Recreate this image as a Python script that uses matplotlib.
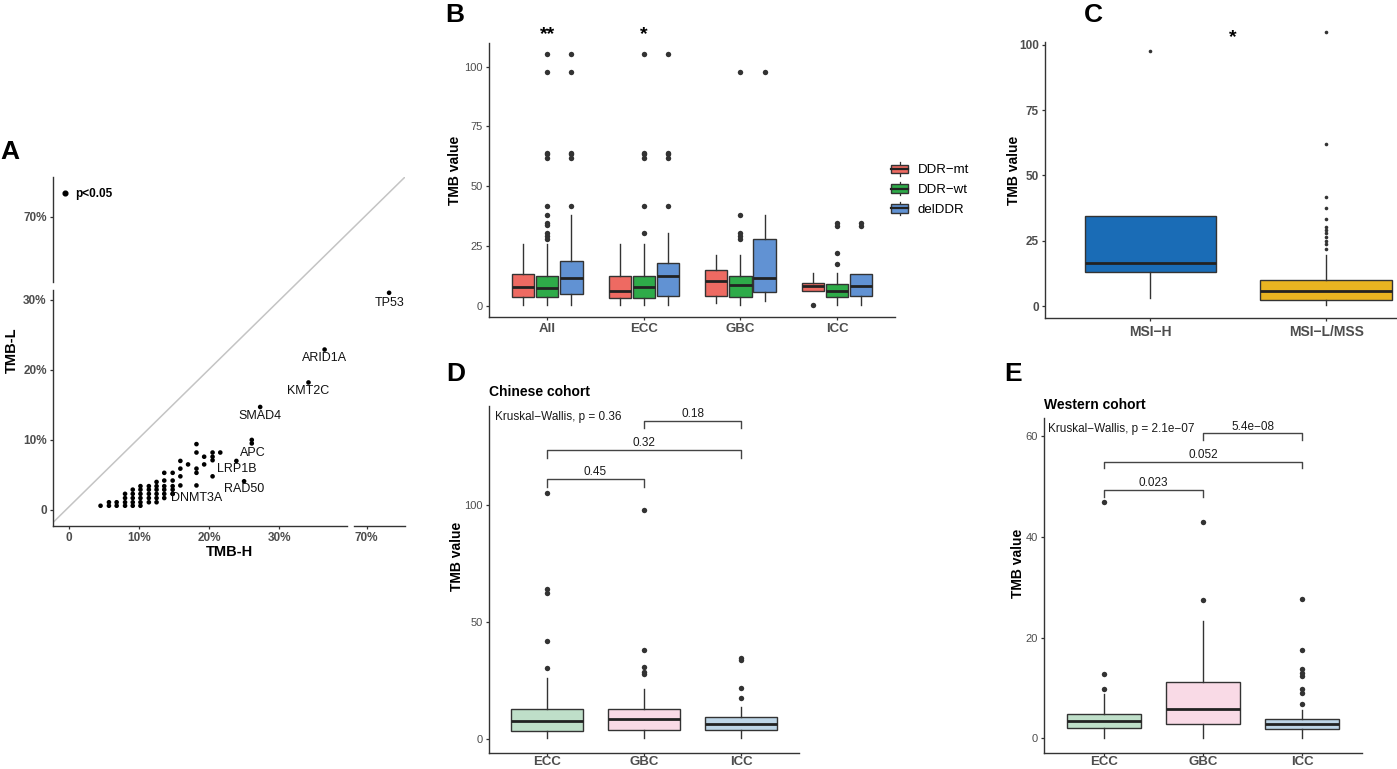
import matplotlib
matplotlib.use('Agg')
import matplotlib.pyplot as plt
from matplotlib.legend_handler import HandlerBase
from matplotlib.patches import Rectangle, Patch
from matplotlib.lines import Line2D

plt.rcParams['font.family'] = ['Liberation Sans', 'DejaVu Sans']

# ---------------- DATA ----------------
# Panel A: mutation frequency of genes in TMB-H (x, %) vs TMB-L (y, %)
a_x = [4.5, 5.7, 5.7, 6.8, 6.8,
       8.0, 8.0, 8.0, 8.0,
       9.1, 9.1, 9.1, 9.1, 9.1,
       10.2, 10.2, 10.2, 10.2, 10.2, 10.2,
       11.4, 11.4, 11.4, 11.4, 11.4,
       12.5, 12.5, 12.5, 12.5, 12.5, 12.5,
       13.6, 13.6, 13.6, 13.6, 13.6, 13.6,
       14.8, 14.8, 14.8, 14.8, 14.8,
       15.9, 15.9, 15.9, 15.9,
       17.0,
       18.2, 18.2, 18.2, 18.2, 18.2,
       19.3, 19.3,
       20.5, 20.5, 20.5, 20.5,
       21.6,
       26.1]
a_y = [0.6, 0.6, 1.1, 0.6, 1.1,
       0.6, 1.1, 1.7, 2.3,
       0.6, 1.1, 1.7, 2.3, 2.9,
       0.6, 1.1, 1.7, 2.3, 2.9, 3.4,
       1.1, 1.7, 2.3, 2.9, 3.4,
       1.1, 1.7, 2.3, 2.9, 3.4, 4.0,
       1.7, 2.3, 2.9, 3.4, 4.2, 5.3,
       2.3, 2.9, 3.4, 4.2, 5.3,
       3.5, 4.8, 5.9, 7.0,
       6.5,
       3.5, 5.3, 5.9, 8.2, 9.4,
       6.5, 7.6,
       4.8, 7.1, 7.6, 8.2,
       8.2,
       9.5]
a_genes = ['ARID1A', 'KMT2C', 'SMAD4', 'APC', 'LRP1B', 'RAD50', 'DNMT3A']
a_gene_x = [36.5, 34.2, 27.3, 26.1, 23.9, 25.0, 14.8]
a_gene_y = [22.9, 18.2, 14.7, 10.0, 7.0, 4.1, 2.3]
a_lab_x = [36.5, 34.2, 27.3, 26.2, 23.9, 25.0, 18.2]
a_lab_y = [21.7, 17.0, 13.4, 8.2, 5.9, 2.95, 1.76]
a_far_gene = 'TP53'
a_far_x = [73.2]
a_far_y = [31.0]
a_far_lab = (73.2, 29.6)

# Panel B: TMB by DDR status in each subtype
b_cats = ['All', 'ECC', 'GBC', 'ICC']
b_series = ['DDR\u2212mt', 'DDR\u2212wt', 'delDDR']
b_colors = ['#EE6A62', '#2EAB49', '#6192D3']
b_lo  = [[0.4, 0.4, 0.4], [0.4, 0.4, 0.4], [1.4, 0.4, 2.1], [6.3, 0.4, 0.4]]
b_q1  = [[3.9, 3.6, 5.1], [3.2, 3.2, 4.3], [4.3, 3.9, 5.7], [6.3, 3.9, 4.3]]
b_med = [[7.9, 7.5, 11.8], [6.3, 7.9, 12.7], [10.3, 8.8, 11.8], [8.5, 6.4, 8.3]]
b_q3  = [[13.2, 12.5, 18.9], [12.7, 12.5, 17.8], [15.2, 12.7, 27.8], [9.7, 9.2, 13.2]]
b_hi  = [[25.7, 25.7, 37.8], [25.7, 25.7, 30.6], [21.1, 21.1, 37.8], [13.6, 13.6, 13.2]]
b_fl  = [[[], [28.0, 29.3, 30.6, 33.8, 34.8, 37.8, 41.9, 61.9, 63.3, 64.1, 97.8, 105.1],
          [41.9, 61.9, 63.3, 64.1, 97.8, 105.1]],
         [[], [30.6, 41.9, 61.9, 63.3, 64.1, 105.1], [41.9, 61.9, 63.3, 64.1, 105.1]],
         [[], [28.0, 29.2, 30.6, 37.8, 97.8], [97.8]],
         [[0.4], [17.4, 22.0, 33.4, 34.5], [33.4, 34.5]]]
b_sig = ['**', '*', '', '']

# Panel C: TMB by MSI status
c_cats = ['MSI\u2212H', 'MSI\u2212L/MSS']
c_colors = ['#1A6CB6', '#E9B421']
c_lo  = [3.2, 0.4]
c_q1  = [13.0, 2.4]
c_med = [16.5, 5.7]
c_q3  = [34.3, 10.1]
c_hi  = [34.3, 19.4]
c_fl  = [[97.6], [21.8, 23.6, 25.0, 26.5, 27.8, 29.1, 30.4, 33.4, 37.6, 41.7, 61.9, 104.8]]
c_sig = '*'

# Panels D, E: TMB by subtype in the two cohorts
de_cats = ['ECC', 'GBC', 'ICC']
de_colors = ['#BFDFC9', '#F9DAE6', '#BDD5E7']
d_lo  = [0.6, 0.6, 0.6]
d_q1  = [3.3, 3.8, 3.8]
d_med = [7.8, 8.7, 6.3]
d_q3  = [12.6, 12.8, 9.2]
d_hi  = [25.9, 21.2, 13.6]
d_fl  = [[30.5, 41.8, 62.1, 63.8, 105.1], [27.7, 28.7, 30.8, 37.9, 97.9], [17.3, 21.9, 33.7, 34.7]]
d_kw = 'Kruskal\u2212Wallis, p = 0.36'
d_pairs = [(1, 2), (1, 3), (2, 3)]
d_pvals = ['0.45', '0.32', '0.18']
d_brk_y = [110.8, 123.3, 135.7]

e_lo  = [0.0, 0.0, 0.0]
e_q1  = [2.1, 2.9, 1.9]
e_med = [3.4, 5.9, 2.9]
e_q3  = [4.9, 11.2, 3.9]
e_hi  = [8.7, 23.4, 5.6]
e_fl  = [[9.7, 12.7, 47.0], [27.4, 43.0], [6.8, 8.9, 9.7, 12.3, 12.9, 13.7, 17.5, 27.7]]
e_kw = 'Kruskal\u2212Wallis, p = 2.1e\u221207'
e_pairs = [(1, 2), (1, 3), (2, 3)]
e_pvals = ['0.023', '0.052', '5.4e\u221208']
e_brk_y = [49.3, 55.0, 60.6]

# ---------------- LAYOUT ----------------
W, H = 1397, 769
fig = plt.figure(figsize=(W / 100, H / 100), dpi=100)
fig.patch.set_facecolor('white')

def rect(l, t, r, b):
    return [l / W, 1 - b / H, (r - l) / W, (b - t) / H]

def fx(px):
    return px / W

def fy(py):
    return 1 - py / H

AXC = '#333333'
TXC = '#4D4D4D'

def style(ax, left=True, bottom=True):
    for s in ['top', 'right']:
        ax.spines[s].set_visible(False)
    ax.spines['left'].set_visible(left)
    ax.spines['bottom'].set_visible(bottom)
    for s in ['left', 'bottom']:
        ax.spines[s].set_linewidth(1.0)
        ax.spines[s].set_color(AXC)
    ax.tick_params(length=2.5, width=0.9, color=AXC, labelcolor=TXC, pad=2)
    ax.set_facecolor('none')

def draw_box(ax, positions, width, lo, q1, med, q3, hi, fl, colors, msize, lw=1.0):
    stats = []
    for i in range(len(positions)):
        stats.append(dict(whislo=lo[i], q1=q1[i], med=med[i], q3=q3[i], whishi=hi[i], fliers=fl[i]))
    for i, st in enumerate(stats):
        art = ax.bxp([st], positions=[positions[i]], widths=width, patch_artist=True,
                     showcaps=False, manage_ticks=False,
                     boxprops=dict(facecolor=colors[i], edgecolor=AXC, linewidth=lw),
                     medianprops=dict(color='#222222', linewidth=2.0),
                     whiskerprops=dict(color=AXC, linewidth=lw),
                     flierprops=dict(marker='o', markerfacecolor='#333333',
                                     markeredgecolor='none', markersize=msize))
        for f in art['fliers']:
            f.set_clip_on(False)

# ---------------- PANEL A ----------------
axOV = fig.add_axes(rect(53, 177, 405, 526))
axOV.axis('off')
axOV.plot([0, 1], [0.01, 1], transform=axOV.transAxes, color='#C4C4C4', lw=1.1)

axLL = fig.add_axes(rect(53, 290, 347, 526))
axLR = fig.add_axes(rect(354, 290, 405, 526))
axUL = fig.add_axes(rect(53, 177, 347, 282))
style(axLL)
style(axLR, left=False)
style(axUL, bottom=False)
axLL.set_xlim(-2.29, 39.7); axLL.set_ylim(-2.29, 31.4)
axLR.set_xlim(68.19, 75.47); axLR.set_ylim(-2.29, 31.4)
axUL.set_xlim(-2.29, 39.7); axUL.set_ylim(60.7, 75.7)

tickfont = dict(fontsize=8.5, fontweight='bold')
axLL.set_xticks([0, 10, 20, 30]); axLL.set_xticklabels(['0', '10%', '20%', '30%'], **tickfont)
axLL.set_yticks([0, 10, 20, 30]); axLL.set_yticklabels(['0', '10%', '20%', '30%'], **tickfont)
axLR.set_xticks([70]); axLR.set_xticklabels(['70%'], **tickfont); axLR.set_yticks([])
axUL.set_yticks([70]); axUL.set_yticklabels(['70%'], **tickfont); axUL.set_xticks([])

ms_a = 11
axLL.scatter(a_x, a_y, s=ms_a, color='black', edgecolors='none', clip_on=False, zorder=3)
axLL.scatter(a_gene_x, a_gene_y, s=ms_a, color='black', edgecolors='none', clip_on=False, zorder=3)
axLR.scatter(a_far_x, a_far_y, s=ms_a, color='black', edgecolors='none', clip_on=False, zorder=3)
for g, x, y in zip(a_genes, a_lab_x, a_lab_y):
    axLL.text(x, y, g, fontsize=9, ha='center', va='center', color='#111111', clip_on=False)
axLR.text(a_far_lab[0], a_far_lab[1], a_far_gene, fontsize=9, ha='center', va='center',
          color='#111111', clip_on=False)

fig.legend(handles=[Line2D([], [], marker='o', ls='', color='black', markersize=3.4)],
           labels=['p<0.05'], loc='center left', bbox_to_anchor=(fx(60), fy(194)),
           frameon=False, handlelength=0.8, handletextpad=0.45, borderpad=0, borderaxespad=0,
           prop=dict(size=8.5, weight='bold'))

fig.text(fx(229), fy(552), 'TMB-H', fontsize=10.5, fontweight='bold', ha='center', va='center')
fig.text(fx(12), fy(350), 'TMB-L', fontsize=10.5, fontweight='bold', ha='center', va='center',
         rotation=90)

# ---------------- PANEL B ----------------
axB = fig.add_axes(rect(489.3, 42.7, 895, 316.7))
style(axB)
axB.set_xlim(0.4, 4.6)
axB.set_ylim(-4.5, 110)
offs = [-0.25, 0.0, 0.25]
for i, cat in enumerate(b_cats):
    pos = [i + 1 + o for o in offs]
    draw_box(axB, pos, 0.23, b_lo[i], b_q1[i], b_med[i], b_q3[i], b_hi[i], b_fl[i], b_colors, 3.9)
    if b_sig[i]:
        axB.text(i + 1, 113.3, b_sig[i], fontsize=14, fontweight='bold', ha='center', va='center',
                 clip_on=False)
axB.set_xticks([1, 2, 3, 4]); axB.set_xticklabels(b_cats, fontsize=9.5, fontweight='bold')
axB.set_yticks([0, 25, 50, 75, 100]); axB.set_yticklabels(['0', '25', '50', '75', '100'], fontsize=8)
fig.text(fx(455), fy(170), 'TMB value', fontsize=10, fontweight='bold', ha='center', va='center',
         rotation=90)

class BoxKey(HandlerBase):
    def create_artists(self, legend, orig, xd, yd, w, h, fs, trans):
        x0, y0 = -xd, -yd
        bh = h * 0.62
        yb = y0 + (h - bh) / 2
        r = Rectangle((x0, yb), w, bh, facecolor=orig.get_facecolor(), edgecolor=AXC,
                      lw=1.0, transform=trans)
        m = Line2D([x0, x0 + w], [y0 + h / 2] * 2, color='#222222', lw=1.6, transform=trans)
        w1 = Line2D([x0 + w / 2] * 2, [yb + bh, y0 + h], color=AXC, lw=0.9, transform=trans)
        w2 = Line2D([x0 + w / 2] * 2, [y0, yb], color=AXC, lw=0.9, transform=trans)
        return [w1, w2, r, m]

fig.legend(handles=[Patch(facecolor=c) for c in b_colors], labels=b_series,
           handler_map={Patch: BoxKey()}, loc='center left',
           bbox_to_anchor=(fx(891.5), fy(189)), frameon=False, handlelength=1.25,
           handleheight=1.2, labelspacing=0.42, handletextpad=0.75, borderpad=0,
           borderaxespad=0, prop=dict(size=9.5))

# ---------------- PANEL C ----------------
axC = fig.add_axes(rect(1045, 41.7, 1431.5, 318.3))
style(axC)
axC.set_xlim(0.4, 2.6)
axC.set_ylim(-4.7, 101.2)
draw_box(axC, [1, 2], 0.75, c_lo, c_q1, c_med, c_q3, c_hi, c_fl, c_colors, 2.6)
axC.text(1.47, 102.6, c_sig, fontsize=14, fontweight='bold', ha='center', va='center', clip_on=False)
axC.set_xticks([1, 2]); axC.set_xticklabels(c_cats, fontsize=10, fontweight='bold')
axC.set_yticks([0, 25, 50, 75, 100])
axC.set_yticklabels(['0', '25', '50', '75', '100'], fontsize=8.5, fontweight='bold')
fig.text(fx(1014.5), fy(170), 'TMB value', fontsize=10, fontweight='bold', ha='center',
         va='center', rotation=90)

# ---------------- PANELS D, E ----------------
def cohort_panel(r, ylim, yticks, lo, q1, med, q3, hi, fl, kw, kw_xy, pairs, pvals, brk_y, tip,
                 title, title_xy, ylab_xy):
    ax = fig.add_axes(rect(*r))
    style(ax)
    ax.set_xlim(0.4, 3.6)
    ax.set_ylim(*ylim)
    draw_box(ax, [1, 2, 3], 0.75, lo, q1, med, q3, hi, fl, de_colors, 3.9)
    ax.set_xticks([1, 2, 3]); ax.set_xticklabels(de_cats, fontsize=9.5, fontweight='bold')
    ax.tick_params(axis='x', length=2.2, pad=0)
    ax.set_yticks(yticks); ax.set_yticklabels([str(t) for t in yticks], fontsize=8)
    ax.text(kw_xy[0], kw_xy[1], kw, fontsize=8.5, ha='left', va='center', color='#1A1A1A',
            clip_on=False)
    for (a, b), p, y in zip(pairs, pvals, brk_y):
        ax.plot([a, a, b, b], [y - tip, y, y, y - tip], color='#444444', lw=1.0, clip_on=False)
        ax.annotate(p, ((a + b) / 2, y), xytext=(0, 0.6), textcoords='offset points',
                    ha='center', va='bottom', fontsize=8.5, color='#1A1A1A')
    fig.text(fx(title_xy[0]), fy(title_xy[1]), title, fontsize=10, fontweight='bold',
             ha='left', va='center')
    fig.text(fx(ylab_xy[0]), fy(ylab_xy[1]), 'TMB value', fontsize=10, fontweight='bold',
             ha='center', va='center', rotation=90)
    return ax

cohort_panel((488.7, 405.7, 799.3, 753.3), (-6.1, 142.2), [0, 50, 100],
             d_lo, d_q1, d_med, d_q3, d_hi, d_fl, d_kw, (0.46, 137.5),
             d_pairs, d_pvals, d_brk_y, 3.2, 'Chinese cohort', (488.7, 391.7), (457.3, 556.7))
cohort_panel((1044.3, 418.3, 1361.7, 753.3), (-3.0, 63.6), [0, 20, 40, 60],
             e_lo, e_q1, e_med, e_q3, e_hi, e_fl, e_kw, (0.435, 61.45),
             e_pairs, e_pvals, e_brk_y, 1.35, 'Western cohort', (1044.3, 405), (1018.3, 563.3))

# ---------------- PANEL LETTERS ----------------
for lab, x, y in [('A', 10, 152), ('B', 455, 14.5), ('C', 1093, 15), ('D', 456, 374),
                  ('E', 1013.5, 374)]:
    fig.text(fx(x), fy(y), lab, fontsize=19, fontweight='bold', ha='center', va='center')

fig.savefig('out.png', dpi=100, facecolor='white')
